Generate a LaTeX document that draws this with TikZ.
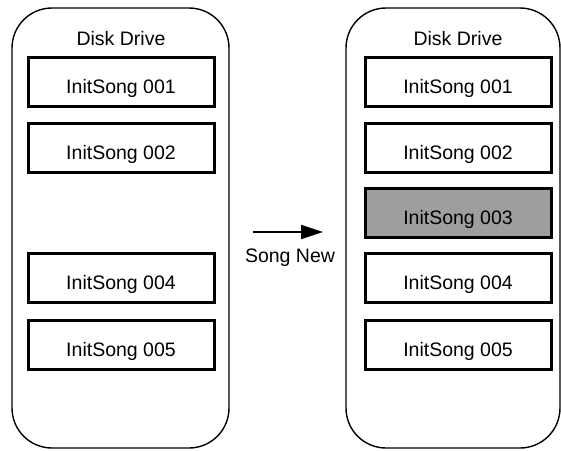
\documentclass[tikz,border=0pt]{standalone}
\usepackage{fontspec}
\setmainfont{Liberation Sans}
\usetikzlibrary{arrows.meta}
\begin{document}
\begin{tikzpicture}[x=1pt,y=-1pt,
  lbl/.style={font=\fontsize{19.5}{22}\selectfont, inner sep=0pt},
  container/.style={draw, line width=1.4pt, rounded corners=40pt, inner sep=0pt},
  songbox/.style={draw, line width=3pt, minimum width=186pt, minimum height=49pt, inner sep=0pt, text height=23pt, text depth=0pt, font=\fontsize{19.5}{22}\selectfont},
  newbox/.style={songbox, fill=black!38},
  conn/.style={line width=2pt, -{Triangle[length=22pt,width=14pt]}}]
\useasboundingbox (0,0) rectangle (561,450);
% containers
\node[container, minimum width=217pt, minimum height=440pt] (cl) at (120.5,228) {};
\node[container, minimum width=214pt, minimum height=440pt] (cr) at (453,228) {};
% titles
\node[lbl] (tl) at (121,38.5) {Disk Drive};
\node[lbl] (tr) at (458,38.5) {Disk Drive};
% left boxes
\node[songbox] (l1) at (121,82) {InitSong 001};
\node[songbox] (l2) at (121,147.5) {InitSong 002};
\node[songbox] (l4) at (121,278) {InitSong 004};
\node[songbox] (l5) at (121,345) {InitSong 005};
% right boxes
\node[songbox] (r1) at (458,82) {InitSong 001};
\node[songbox] (r2) at (458,147.5) {InitSong 002};
\node[newbox] (r3) at (458,213) {InitSong 003};
\node[songbox] (r4) at (458,278) {InitSong 004};
\node[songbox] (r5) at (458,345) {InitSong 005};
% arrow
\coordinate (a0) at (253,232);
\coordinate (a1) at (323,232);
\draw[conn] (a0) -- (a1);
\node[lbl] (sn) at (290,258) {Song New};
\end{tikzpicture}
\end{document}
